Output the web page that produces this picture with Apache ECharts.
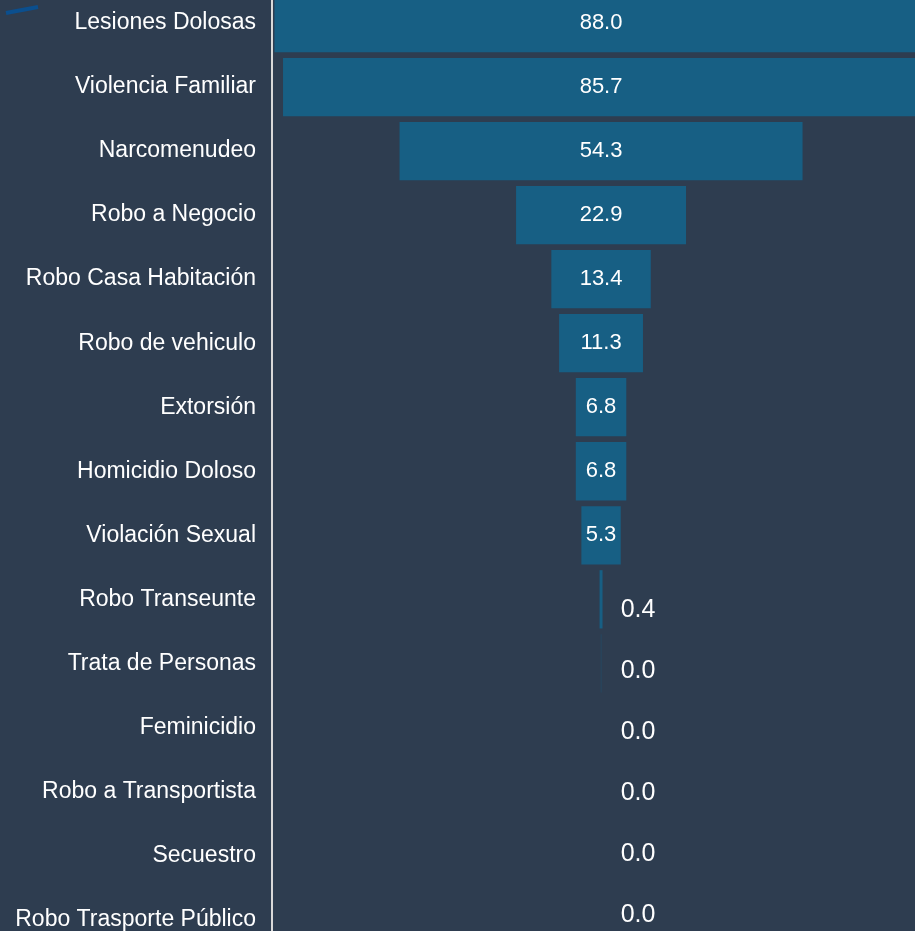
<!DOCTYPE html>
<html>
<head>
<meta charset="utf-8">
<script src="https://cdn.jsdelivr.net/npm/echarts@6/dist/echarts.min.js"></script>
<style>
  html, body { margin: 0; padding: 0; background: #2e3d50; }
  #main { width: 915px; height: 931px; }
</style>
</head>
<body>
<div id="main"></div>
<script>
// delitos, de mayor a menor
const categories = [
  "Lesiones Dolosas", "Violencia Familiar", "Narcomenudeo", "Robo a Negocio",
  "Robo Casa Habitación", "Robo de vehiculo", "Extorsión", "Homicidio Doloso",
  "Violación Sexual", "Robo Transeunte", "Trata de Personas", "Feminicidio",
  "Robo a Transportista", "Secuestro", "Robo Trasporte Público"
];
const values = [88.0, 85.7, 54.3, 22.9, 13.4, 11.3, 6.8, 6.8, 5.3, 0.4, 0.04, 0, 0, 0, 0];

const center = 44.2; // centro del embudo en unidades del eje
const axisMax = 86.5;
const font = "Liberation Sans";

const chart = echarts.init(document.getElementById("main"));

// barra invisible que desplaza cada barra para centrarla
const offsetData = values.map((v) => center - v / 2);

const valueData = values.map((v, i) => {
  if (v >= 1) return v;
  // etiquetas de los valores pequeños van a la derecha, un poco más abajo
  return {
    value: v,
    label: {
      fontSize: 25,
      offset: [37, 11 - (i - 9) * 3],
    },
  };
});

chart.setOption({
  backgroundColor: "#2e3d50",
  animation: false,
  graphic: [
    {
      type: "line",
      shape: { x1: 6, y1: 13, x2: 38, y2: 7 },
      style: { stroke: "#0b4f8e", lineWidth: 4 },
    },
    {
      type: "line",
      shape: { x1: 272, y1: 0, x2: 272, y2: 931 },
      style: { stroke: "#d9d9d9", lineWidth: 2 },
    },
  ],
  grid: { left: 273, right: 0, top: 23, bottom: 11, containLabel: false },
  xAxis: {
    type: "value",
    min: 0,
    max: axisMax,
    show: false,
  },
  yAxis: {
    type: "category",
    data: categories,
    inverse: true,
    boundaryGap: false,
    axisLine: { show: false },
    axisTick: { show: false },
    splitLine: { show: false },
    axisLabel: {
      color: "#ffffff",
      fontSize: 23,
      fontFamily: font,
      margin: 17,
    },
  },
  series: [
    {
      type: "bar",
      stack: "funnel",
      data: offsetData,
      itemStyle: { color: "transparent" },
      silent: true,
      clip: false,
      barCategoryGap: "9%",
    },
    {
      type: "bar",
      stack: "funnel",
      data: valueData,
      clip: false,
      barCategoryGap: "9%",
      itemStyle: { color: "#175f84" },
      label: {
        show: true,
        position: "inside",
        color: "#ffffff",
        fontSize: 22,
        fontFamily: font,
        formatter: (p) => p.value.toFixed(1),
      },
    },
  ],
});
</script>
</body>
</html>
